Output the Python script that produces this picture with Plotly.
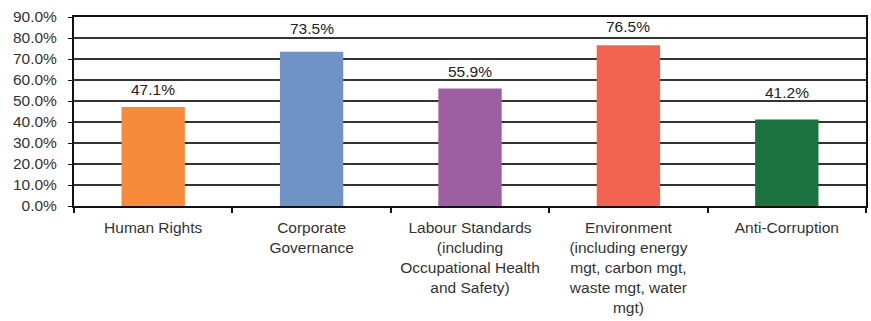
import plotly.graph_objects as go

categories = [
    "Human Rights",
    "Corporate<br>Governance",
    "Labour Standards<br>(including<br>Occupational Health<br>and Safety)",
    "Environment<br>(including energy<br>mgt, carbon mgt,<br>waste mgt, water<br>mgt)",
    "Anti-Corruption",
]
values = [47.1, 73.5, 55.9, 76.5, 41.2]
colors = ["#F68B3C", "#6F93C5", "#9E5FA0", "#F26352", "#1B7340"]
y_ticks = [0, 10, 20, 30, 40, 50, 60, 70, 80, 90]

# vertical offset (px) of each value label above its bar, keeping it clear of gridlines
label_offsets = [18, 23, 17.5, 18.5, 27]

font_family = "Liberation Sans, Arial, sans-serif"

fig = go.Figure(
    go.Bar(
        x=categories,
        y=values,
        marker=dict(color=colors, line=dict(width=0)),
        width=0.4,
        hoverinfo="x+y",
    )
)

for cat, v, dy in zip(categories, values, label_offsets):
    fig.add_annotation(
        x=cat,
        y=v,
        text=f"{v:.1f}%",
        showarrow=False,
        yanchor="middle",
        yshift=dy,
        font=dict(size=15.5, color="#222", family=font_family),
    )

fig.update_layout(
    width=871,
    height=321,
    margin=dict(l=74, r=3, t=17, b=115),
    plot_bgcolor="white",
    paper_bgcolor="white",
    showlegend=False,
    font=dict(family=font_family, size=15.5, color="#333"),
)

fig.update_xaxes(
    showline=True,
    linecolor="#111",
    linewidth=2,
    mirror=True,
    ticks="outside",
    tickson="boundaries",
    ticklen=5,
    tickcolor="#111",
    tickwidth=1.5,
    tickfont=dict(size=15.5, color="#333"),
    ticklabelstandoff=6,
    showgrid=False,
)

fig.update_yaxes(
    range=[0, 90],
    tickvals=y_ticks,
    ticktext=[f"{t:.1f}%" for t in y_ticks],
    showline=True,
    linecolor="#111",
    linewidth=2,
    mirror=True,
    ticks="outside",
    ticklen=4,
    tickcolor="#111",
    showgrid=True,
    gridcolor="#333",
    gridwidth=1.5,
    tickfont=dict(size=15.5, color="#333"),
    ticklabelstandoff=8,
    zeroline=False,
)

fig.write_html("out.html")
